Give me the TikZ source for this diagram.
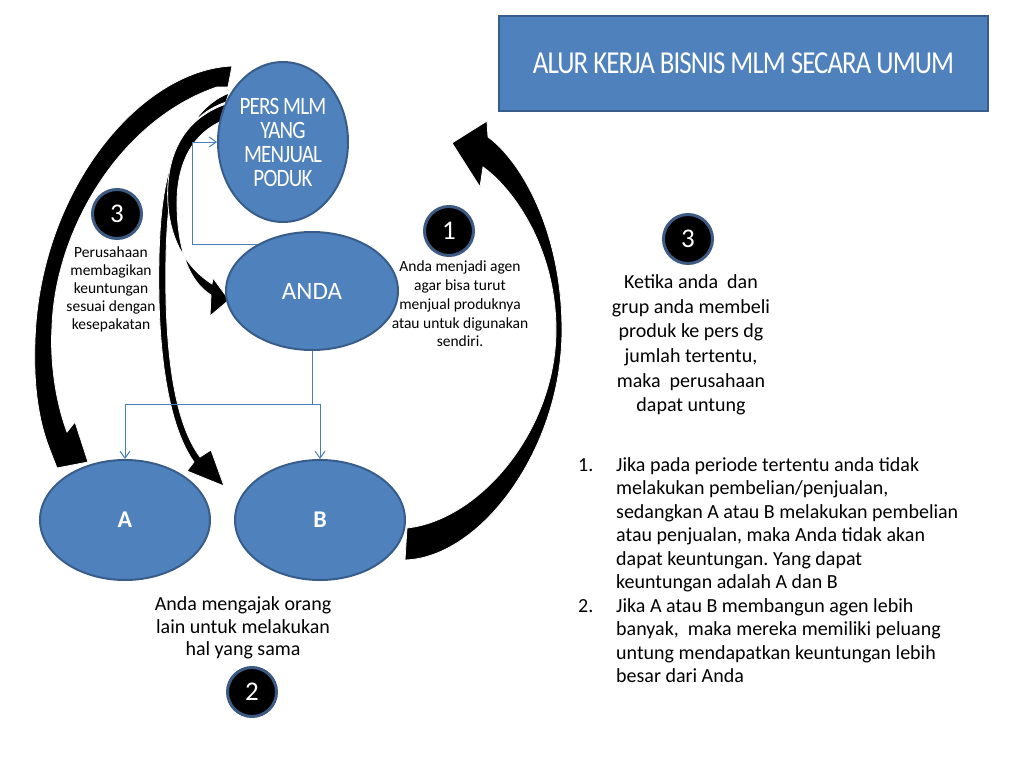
\documentclass[tikz,border=0pt]{standalone}
\usepackage{fontspec}
\setmainfont{Carlito}
\newfontfamily\narrowfont{Carlito}[FakeStretch=0.84,LetterSpace=-3]
\usetikzlibrary{shapes.geometric,arrows.meta}
\frenchspacing

\definecolor{mlmblue}{HTML}{4F81BD}
\definecolor{mlmedge}{HTML}{385D8A}
\definecolor{linkblue}{HTML}{4A7EBB}
\definecolor{badgeedge}{HTML}{3C5A82}

\tikzset{
  blob/.style={ellipse,draw=mlmedge,line width=2pt,fill=mlmblue,text=white,inner sep=0pt,align=center},
  badge/.style={circle,draw=badgeedge,line width=3pt,fill=black,text=white,minimum size=49pt,inner sep=0pt,font=\fontsize{27}{27}\selectfont},
  note/.style={align=center,inner sep=0pt},
  linkline/.style={draw=linkblue,line width=1pt},
  link/.style={linkline,-{Straight Barb[length=7pt,width=10pt]}},
  bigarrow/.style={fill=black,draw=white,line width=0.8pt},
}

\begin{document}
\begin{tikzpicture}[x=1pt,y=-1pt]
\useasboundingbox (0,0) rectangle (1013,768);

% block arrows
\filldraw[bigarrow] (232,66) .. controls (140,70) and (40,190) .. (35,340)
  .. controls (33,390) and (40,425) .. (50,450)
  -- (57,468) -- (88,462) -- (75,422) -- (67,432)
  .. controls (55,400) and (50,360) .. (52,327)
  .. controls (55,230) and (120,120) .. (217,87)
  -- (228,87) -- cycle;
\filldraw[bigarrow] (229,93) .. controls (175,115) and (164,190) .. (166,300)
  .. controls (168,380) and (180,430) .. (200,457)
  -- (211,450) -- (224,486) -- (187,471) -- (194,462)
  .. controls (174,434) and (161,380) .. (159,300)
  .. controls (157,190) and (168,122) .. (226,102) -- cycle;
\filldraw[bigarrow] (226,104) .. controls (180,120) and (165,160) .. (168,205)
  .. controls (171,245) and (190,270) .. (212,284)
  -- (213,278) -- (229,300) -- (210,316) -- (211,295)
  .. controls (190,282) and (178,252) .. (177,207)
  .. controls (176,160) and (195,132) .. (224,120) -- cycle;
\filldraw[bigarrow] (405,560) .. controls (480,558) and (562,450) .. (562,330)
  .. controls (562,230) and (520,160) .. (488,137)
  -- (487,121) -- (452,143) -- (480,187) -- (483,167)
  .. controls (515,190) and (556,250) .. (556,330)
  .. controls (556,430) and (480,520) .. (407,528) -- cycle;

\node[draw=mlmedge,line width=2.5pt,fill=mlmblue,text=white,minimum width=489pt,minimum height=95pt,
      font=\narrowfont\fontsize{32}{32}\selectfont] (title) at (743.5,63.5) {ALUR KERJA BISNIS MLM SECARA UMUM};

\node[blob,minimum width=130pt,minimum height=160pt,font=\narrowfont\fontsize{25}{24}\selectfont] (pers) at (283,142) {PERS MLM\\YANG\\MENJUAL\\PODUK};
\node[blob,minimum width=172pt,minimum height=118pt,font=\fontsize{25}{25}\selectfont] (anda) at (312,291) {ANDA};
\node[blob,minimum width=170pt,minimum height=120pt,font=\bfseries\fontsize{24}{24}\selectfont] (a) at (125,520) {A};
\node[blob,minimum width=170pt,minimum height=120pt,font=\bfseries\fontsize{24}{24}\selectfont] (b) at (320,520) {B};

\coordinate (bend) at (192,142);
\coordinate (split) at (312,404);
\draw[link] (anda.140) -| (bend) -- (pers.west);
\draw[linkline] (anda.south) -- (split);
\draw[link] (split) -| (a.north);
\draw[link] (split) -| (b.north);

\node[badge] (share) at (117,214) {3};
\node[badge] (join) at (449,231) {1};
\node[badge] (profit) at (688,239) {3};
\node[badge] (invite) at (252,692) {2};

\node[note,font=\fontsize{15.5}{18}\selectfont] (sharetext) at (111,289) {Perusahaan\\membagikan\\keuntungan\\sesuai dengan\\kesepakatan};
\node[note,font=\fontsize{15.5}{18.7}\selectfont] (jointext) at (460,304) {Anda menjadi agen\\agar bisa turut\\menjual produknya\\atau untuk digunakan\\sendiri.};
\node[note,font=\fontsize{20}{24.7}\selectfont] (profittext) at (691,345) {Ketika anda\ \ dan\\grup anda membeli\\produk ke pers dg\\jumlah tertentu,\\maka\ \ perusahaan\\dapat untung};
\node[note,font=\fontsize{20}{22.5}\selectfont] (invitetext) at (243,628) {Anda mengajak orang\\lain untuk melakukan\\hal yang sama};

\node[inner sep=0pt,anchor=north west,font=\fontsize{20}{23.5}\selectfont] (rules) at (578,454.5) {%
\begin{tabular}{@{}p{38pt}@{}l@{}}
1. & Jika pada periode tertentu anda tidak\\
   & melakukan pembelian/penjualan,\\
   & sedangkan A atau B melakukan pembelian\\
   & atau penjualan, maka Anda tidak akan\\
   & dapat keuntungan. Yang dapat\\
   & keuntungan adalah A dan B\\
2. & Jika A atau B membangun agen lebih\\
   & banyak,\ \ maka mereka memiliki peluang\\
   & untung mendapatkan keuntungan lebih\\
   & besar dari Anda
\end{tabular}};

\end{tikzpicture}
\end{document}
